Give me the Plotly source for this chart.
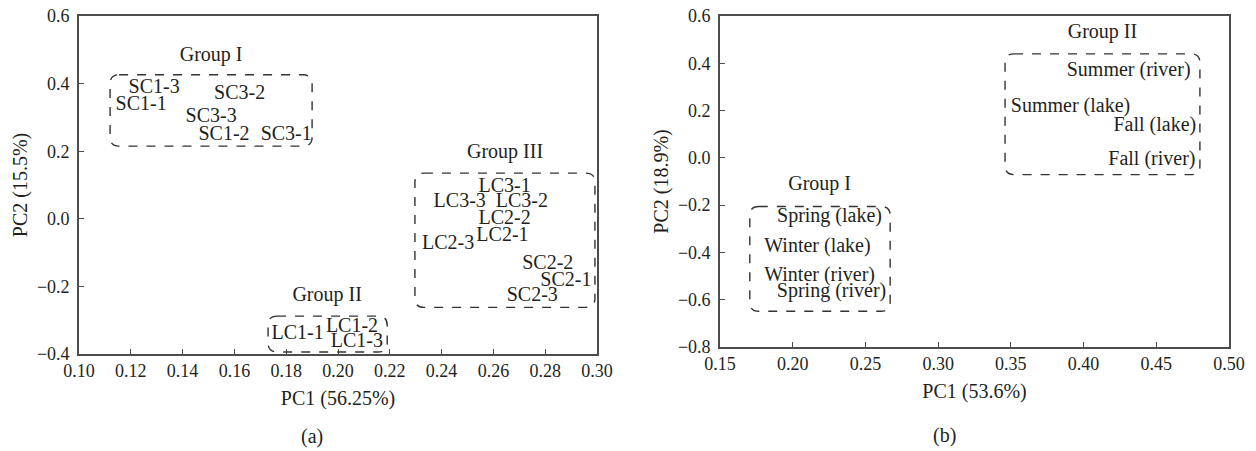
import plotly.graph_objects as go

# the page's default body margin is removed by a post script, so the figure fills the window
PAGE_W, PAGE_H, OFF = 1256, 451, 0
W, H = PAGE_W - 2 * OFF, PAGE_H - 2 * OFF
FONT = "Liberation Serif"
TXT = "#231f20"
AX = "#4d4d4d"

# ---------------- Panel (a) data ----------------
a_labels = ["SC1-3", "SC1-1", "SC3-2", "SC3-3", "SC1-2", "SC3-1",
            "LC1-1", "LC1-2", "LC1-3",
            "LC3-1", "LC3-3", "LC3-2", "LC2-2", "LC2-1", "LC2-3",
            "SC2-2", "SC2-1", "SC2-3"]
a_pc1 = [0.129, 0.124, 0.162, 0.151, 0.156, 0.180,
         0.1844, 0.2054, 0.2073,
         0.2643, 0.247, 0.271, 0.2643, 0.2635, 0.2425,
         0.281, 0.288, 0.275]
a_pc2 = [0.388, 0.338, 0.368, 0.300, 0.247, 0.247,
         -0.341, -0.320, -0.365,
         0.094, 0.050, 0.050, 0.000, -0.050, -0.076,
         -0.135, -0.185, -0.229]
a_groups = ["Group I", "Group II", "Group III"]
a_group_x = [0.151, 0.1958, 0.2645]
a_group_y = [0.482, -0.229, 0.194]
a_box_x0 = [0.112, 0.173, 0.2297]
a_box_x1 = [0.190, 0.219, 0.2992]
a_box_y0 = [0.215, -0.394, -0.262]
a_box_y1 = [0.426, -0.288, 0.135]

# ---------------- Panel (b) data ----------------
b_labels = ["Spring (lake)", "Winter (lake)", "Winter (river)", "Spring (river)",
            "Summer (river)", "Summer (lake)", "Fall (lake)", "Fall (river)"]
b_pc1 = [0.2253, 0.217, 0.2185, 0.2267, 0.431, 0.391, 0.449, 0.447]
b_pc2 = [-0.252, -0.379, -0.501, -0.569, 0.368, 0.216, 0.136, -0.008]
b_groups = ["Group I", "Group II"]
b_group_x = [0.2185, 0.413]
b_group_y = [-0.113, 0.528]
b_box_x0 = [0.1705, 0.346]
b_box_x1 = [0.267, 0.480]
b_box_y0 = [-0.649, -0.071]
b_box_y1 = [-0.206, 0.440]


def px_x(p):  # page px -> paper fraction
    return (p - OFF) / W


def px_y(p):
    return (PAGE_H - OFF - p) / H


# ---------------- layout geometry ----------------
xa_dom = [px_x(79), px_x(597)]
ya_dom = [px_y(354), px_y(16)]
xb_dom = [px_x(720), px_x(1229)]
yb_dom = [px_y(347), px_y(16)]
xa_rng, ya_rng = [0.10, 0.30], [-0.4, 0.6]
xb_rng, yb_rng = [0.15, 0.50], [-0.8, 0.6]


def rounded_path(x0, x1, y0, y1, xdom, ydom, xr, yr, rpx=9):
    kx = (xdom[1] - xdom[0]) * W / (xr[1] - xr[0])
    ky = (ydom[1] - ydom[0]) * H / (yr[1] - yr[0])
    rx, ry = rpx / kx, rpx / ky
    return (f"M {x0+rx},{y1} L {x1-rx},{y1} Q {x1},{y1} {x1},{y1-ry} "
            f"L {x1},{y0+ry} Q {x1},{y0} {x1-rx},{y0} "
            f"L {x0+rx},{y0} Q {x0},{y0} {x0},{y0+ry} "
            f"L {x0},{y1-ry} Q {x0},{y1} {x0+rx},{y1} Z")


fig = go.Figure()
tf = dict(family=FONT, size=20, color=TXT)

fig.add_trace(go.Scatter(x=a_pc1, y=a_pc2, text=a_labels, mode="text",
                         textfont=tf, textposition="middle center",
                         xaxis="x", yaxis="y", hoverinfo="skip", showlegend=False))
fig.add_trace(go.Scatter(x=a_group_x, y=a_group_y, text=a_groups, mode="text",
                         textfont=tf, textposition="middle center",
                         xaxis="x", yaxis="y", hoverinfo="skip", showlegend=False))
fig.add_trace(go.Scatter(x=b_pc1, y=b_pc2, text=b_labels, mode="text",
                         textfont=tf, textposition="middle center",
                         xaxis="x2", yaxis="y2", hoverinfo="skip", showlegend=False))
fig.add_trace(go.Scatter(x=b_group_x, y=b_group_y, text=b_groups, mode="text",
                         textfont=tf, textposition="middle center",
                         xaxis="x2", yaxis="y2", hoverinfo="skip", showlegend=False))

shapes = []
for i in range(len(a_groups)):
    shapes.append(dict(type="path", xref="x", yref="y",
                       path=rounded_path(a_box_x0[i], a_box_x1[i], a_box_y0[i], a_box_y1[i],
                                         xa_dom, ya_dom, xa_rng, ya_rng),
                       line=dict(color="#333333", width=1.4, dash="dash")))
for i in range(len(b_groups)):
    shapes.append(dict(type="path", xref="x2", yref="y2",
                       path=rounded_path(b_box_x0[i], b_box_x1[i], b_box_y0[i], b_box_y1[i],
                                         xb_dom, yb_dom, xb_rng, yb_rng),
                       line=dict(color="#333333", width=1.4, dash="dash")))

axis_common = dict(showgrid=False, zeroline=False, showline=True, linecolor=AX,
                   linewidth=1.6, mirror=True, ticks="inside", ticklen=5,
                   tickwidth=1.3, tickcolor=AX, tickfont=dict(family=FONT, size=18, color=TXT),
                   title_font=dict(family=FONT, size=20, color=TXT), automargin=False,
                   ticklabeloverflow="allow", fixedrange=True)

fig.update_layout(
    width=W, height=H, margin=dict(l=0, r=0, t=0, b=0),
    paper_bgcolor="white", plot_bgcolor="white",
    xaxis=dict(domain=xa_dom, range=xa_rng, tickvals=[0.10, 0.12, 0.14, 0.16, 0.18, 0.20,
                                                       0.22, 0.24, 0.26, 0.28, 0.30],
               tickformat=".2f", title=dict(text="PC1 (56.25%)", standoff=11),
               anchor="y", **axis_common),
    yaxis=dict(domain=ya_dom, range=ya_rng, tickvals=[-0.4, -0.2, 0.0, 0.2, 0.4, 0.6],
               tickformat=".1f", title=dict(text="PC2 (15.5%)", standoff=4),
               ticklabelstandoff=4, anchor="x", **axis_common),
    xaxis2=dict(domain=xb_dom, range=xb_rng, tickvals=[0.15, 0.20, 0.25, 0.30, 0.35, 0.40,
                                                        0.45, 0.50],
                tickformat=".2f", title=dict(text="PC1 (53.6%)", standoff=11),
                anchor="y2", **axis_common),
    yaxis2=dict(domain=yb_dom, range=yb_rng, tickvals=[-0.8, -0.6, -0.4, -0.2, 0.0, 0.2, 0.4, 0.6],
                tickformat=".1f", title=dict(text="PC2 (18.9%)", standoff=4),
                ticklabelstandoff=4, anchor="x2", **axis_common),
    shapes=shapes,
    annotations=[
        dict(text="(a)", x=px_x(312), y=px_y(436), xref="paper", yref="paper",
             showarrow=False, font=dict(family=FONT, size=20, color=TXT),
             xanchor="center", yanchor="middle"),
        dict(text="(b)", x=px_x(944), y=px_y(435), xref="paper", yref="paper",
             showarrow=False, font=dict(family=FONT, size=20, color=TXT),
             xanchor="center", yanchor="middle"),
    ],
)

fig.write_html("out.html", config={"displayModeBar": False},
               post_script="document.body.style.margin='0';document.body.style.overflow='hidden';")
